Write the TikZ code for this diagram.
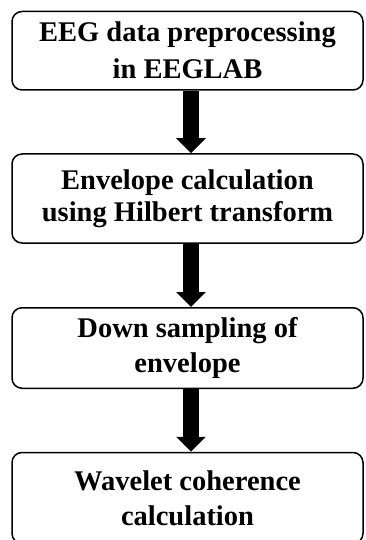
\documentclass[tikz,border=0pt]{standalone}
\usepackage{fontspec}
\setmainfont{Liberation Serif}
\usetikzlibrary{arrows.meta}

\begin{document}
\begin{tikzpicture}[x=1pt, y=-1pt,
    stage/.style={rounded corners=10pt, draw, line width=1.5pt, minimum width=351pt,
        align=center, inner sep=0pt, font=\bfseries\fontsize{28.5}{35}\selectfont},
    flow/.style={line width=16pt, -{Triangle[width=29pt, length=15pt]}}]
    \useasboundingbox (0, 0) rectangle (365, 540);

    % Nodes (Steps)
    \node[stage, minimum height=78.5pt] (prep) at (187.5, 50.75) {EEG data preprocessing\\[2pt]in EEGLAB};
    \node[stage, minimum height=89pt] (env) at (187.5, 198.5) {Envelope calculation\\[-3pt]using Hilbert transform};
    \node[stage, minimum height=80.5pt] (down) at (187.5, 348) {Down sampling of\\envelope};
    \node[stage, minimum height=91pt] (wave) at (187.5, 498) {Wavelet coherence\\calculation};

    % Edges (Arrows)
    \draw[flow] (prep.south -| 191, 0) -- (env.north -| 191, 0);
    \draw[flow] (env.south -| 191, 0) -- (down.north -| 191, 0);
    \draw[flow] (down.south -| 191, 0) -- (wave.north -| 191, 0);
\end{tikzpicture}
\end{document}
